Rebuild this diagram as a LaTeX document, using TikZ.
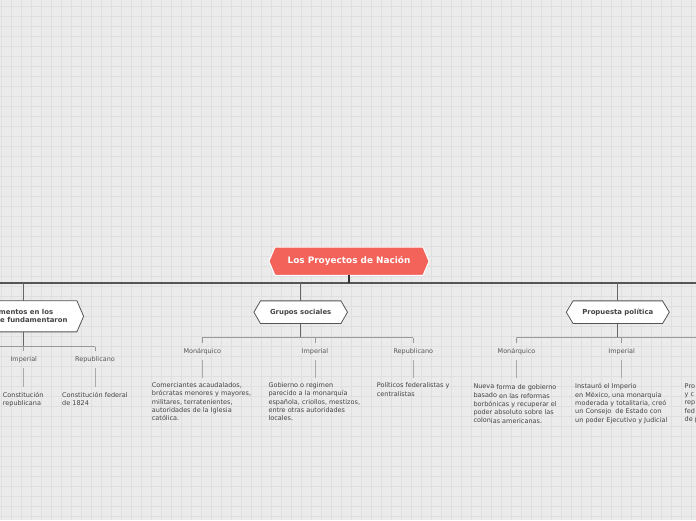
\documentclass[tikz,border=0pt]{standalone}
\usepackage{fontspec}
\setmainfont{DejaVu Sans}
\pgfdeclarelayer{bg}
\pgfdeclarelayer{frames}
\pgfsetlayers{bg,frames,main}
\definecolor{bgc}{HTML}{EBEBEB}
\definecolor{gridc}{HTML}{DFDFDF}
\definecolor{rootc}{HTML}{F4635A}
\definecolor{txtc}{HTML}{444444}
\definecolor{lblc}{HTML}{555555}
\definecolor{busc}{HTML}{555555}
\definecolor{stemc}{HTML}{666666}
\definecolor{subc}{HTML}{999999}
\definecolor{leafc}{HTML}{AAAAAA}
\definecolor{framec}{HTML}{555555}
\newcommand\hexframe[3]{%
\begin{pgfonlayer}{frames}
\filldraw[#2] (#1.north west) -- (#1.north east) -- ([xshift=#3]#1.east) -- (#1.south east) -- (#1.south west) -- ([xshift=-#3]#1.west) -- cycle;
\end{pgfonlayer}}
\tikzset{
  roottext/.style={font=\fontsize{8.9}{10}\selectfont\bfseries, text=white, inner sep=0pt},
  hextext/.style={font=\fontsize{6.9}{8}\selectfont\bfseries, text=txtc, inner sep=0pt},
  rootframe/.style={fill=rootc, draw=white, line width=1pt},
  hexstyle/.style={fill=white, draw=framec, line width=0.8pt},
  lbl/.style={font=\fontsize{6.45}{8}\selectfont, text=lblc, inner sep=0pt, minimum height=16.6pt},
  body/.style={font=\fontsize{6.5}{8.33}\selectfont, text=txtc, inner sep=0pt, align=left, anchor=north west},
  bus/.style={draw=busc, line width=1.2pt},
  rootstem/.style={draw=black!80, line width=1.5pt},
  stem/.style={draw=stemc, line width=1.1pt},
  sub/.style={draw=subc, line width=0.9pt},
  leaf/.style={draw=leafc, line width=0.9pt},
  gridline/.style={draw=gridc, line width=0.6pt}
}
\begin{document}
\begin{tikzpicture}[x=1pt,y=-1pt]
\useasboundingbox (0,0) rectangle (696,520);
\clip (0,0) rectangle (696,520);
\begin{pgfonlayer}{bg}
\fill[bgc] (0,0) rectangle (696,520);
\foreach \i in {0,...,70} \draw[gridline] (1.7+10*\i,0) -- (1.7+10*\i,520);
\foreach \j in {0,...,52} \draw[gridline] (0,6.7+10*\j) -- (696,6.7+10*\j);
\end{pgfonlayer}

% root
\node[roottext, minimum width=147.7pt, minimum height=27.7pt] (root) at (349,261.2) {Los Proyectos de Nación};
\hexframe{root}{rootframe}{6pt}

% main bus
\coordinate (busW) at (-2,283);
\coordinate (busE) at (698,283);
\coordinate (j0) at (349,283);
\coordinate (j1) at (23.35,283);
\coordinate (j2) at (300.7,283);
\coordinate (j3) at (617.8,283);
\draw[bus] (busW) -- (busE);
\draw[rootstem] (root.south) -- (j0);

% branch nodes
\node[hextext, align=left, minimum width=106.7pt, minimum height=30.7pt] (b1) at (23.35,316.3) {Documentos en los\\que se fundamentaron};
\hexframe{b1}{hexstyle}{6.7pt}
\node[hextext, minimum width=80pt, minimum height=22.3pt] (b2) at (300.7,312.2) {Grupos sociales};
\hexframe{b2}{hexstyle}{6.6pt}
\node[hextext, minimum width=89pt, minimum height=22.3pt] (b3) at (617.8,312.2) {Propuesta política};
\hexframe{b3}{hexstyle}{6.8pt}
\draw[stem] (j1) -- (b1.north);
\draw[stem] (j2) -- (b2.north);
\draw[stem] (j3) -- (b3.north);

% branch 1 children
\coordinate (s1) at (23.35,346.7);
\coordinate (s1W) at (-40,346.7);
\coordinate (s1E) at (95.3,346.7);
\draw[stem] (b1.south) -- (s1);
\draw[sub] (s1W) -- (s1E);
\node[lbl] (l11) at (23.8,359.3) {Imperial};
\node[lbl] (l12) at (95,359.3) {Republicano};
\draw[sub] (s1) -- (s1 |- l11.north);
\draw[sub] (s1E) -- (s1E |- l12.north);
\coordinate (e1) at (0,386.7);
\draw[leaf] (l11.south) -- (l11.south |- e1);
\draw[leaf] (l12.south) -- (l12.south |- e1);
\node[body] (t11) at (2.7,391.6) {Constitución\\republicana};
\node[body] (t12) at (62,391.6) {Constitución federal\\de 1824};

% branch 2 children
\coordinate (s2) at (300.7,337.5);
\coordinate (s2W) at (202.3,337.5);
\coordinate (s2M) at (315,337.5);
\coordinate (s2E) at (413.3,337.5);
\draw[stem] (b2.south) -- (s2);
\draw[sub] (s2W) -- (s2E);
\node[lbl] (l21) at (202.3,351.7) {Monárquico};
\node[lbl] (l22) at (315,351.7) {Imperial};
\node[lbl] (l23) at (413.3,351.7) {Republicano};
\draw[sub] (s2W) -- (l21.north);
\draw[sub] (s2M) -- (l22.north);
\draw[sub] (s2E) -- (l23.north);
\coordinate (e2) at (0,378.3);
\draw[leaf] (l21.south) -- (l21.south |- e2);
\draw[leaf] (l22.south) -- (l22.south |- e2);
\draw[leaf] (l23.south) -- (l23.south |- e2);
\node[body] (t21) at (151.7,382.3) {Comerciantes acaudalados,\\brócratas menores y mayores,\\militares, terratenientes,\\autoridades de la Iglesia\\católica.};
\node[body] (t22) at (268.3,382.3) {Gobierno o regimen\\parecido a la monarquía\\española, criollos, mestizos,\\entre otras autoridades\\locales.};
\node[body] (t23) at (376.7,382.3) {Políticos federalistas y\\centralistas};

% branch 3 children
\coordinate (s3) at (617.8,337.5);
\coordinate (s3W) at (516.7,337.5);
\coordinate (s3M) at (621.7,337.5);
\coordinate (s3E) at (700,337.5);
\draw[stem] (b3.south) -- (s3);
\draw[sub] (s3W) -- (s3E);
\node[lbl] (l31) at (516.5,351.7) {Monárquico};
\node[lbl] (l32) at (621.7,351.7) {Imperial};
\draw[sub] (s3W) -- (l31.north);
\draw[sub] (s3M) -- (l32.north);
\draw[leaf] (l31.south) -- (l31.south |- e2);
\draw[leaf] (l32.south) -- (l32.south |- e2);
\node[body] (t31) at (473.3,383.3) {\raisebox{1.7pt}{Nueva} forma de gobierno\\\raisebox{1pt}{basado} en las reformas\\\raisebox{0.5pt}{borbó}nicas y recuperar el\\\raisebox{0.5pt}{poder} absoluto sobre las\\\raisebox{0.7pt}{colon}ias americanas.};
\node[body] (t32) at (575,383.3) {Instauró el Imperio\\en México, una monarquía\\moderada y totalitaria, creó\\un Consejo\ \ de Estado con\\un poder Ejecutivo y Judicial};
\node[body] (t33) at (684.5,383.3) {Pro\\y c\\rep\\fed\\de p};
\end{tikzpicture}
\end{document}
